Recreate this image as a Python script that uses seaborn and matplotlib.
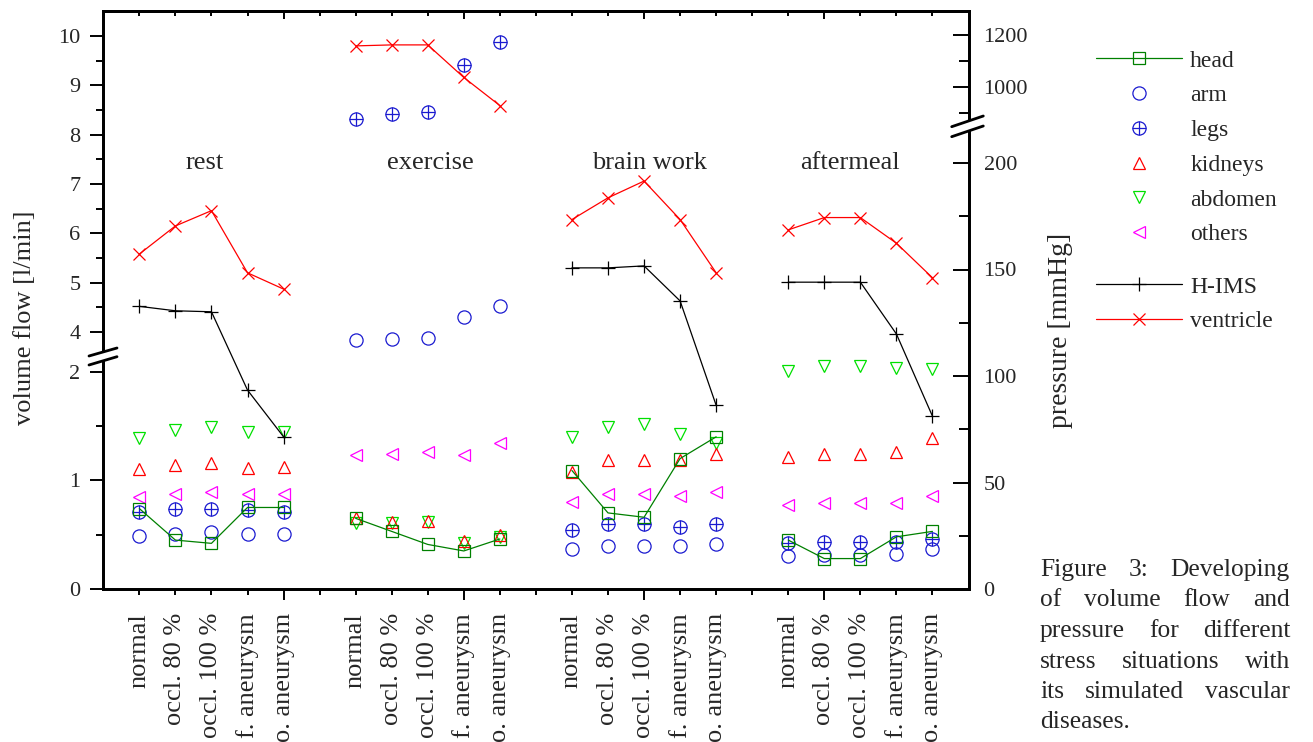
import numpy as np
import pandas as pd
import matplotlib
matplotlib.use("Agg")
import matplotlib.pyplot as plt
import matplotlib.transforms as mtransforms
from matplotlib.lines import Line2D
from matplotlib.patches import Polygon
from matplotlib.ticker import FixedLocator, FixedFormatter, NullFormatter
import seaborn as sns

# ---------------- data ----------------
situations = ["rest", "exercise", "brain work", "aftermeal"]
conditions = ["normal", "occl. 80 %", "occl. 100 %", "f. aneurysm", "o. aneurysm"]

nan = np.nan
head = [0.74, 0.45, 0.42, 0.75, 0.75,
        0.65, 0.53, 0.41, 0.35, 0.46,
        1.09, 0.70, 0.66, 1.20, 1.40,
        0.45, 0.28, 0.28, 0.48, 0.53]
arm = [0.49, 0.51, 0.52, 0.51, 0.51,
       3.83, 3.86, 3.88, 4.31, 4.53,
       0.365, 0.40, 0.40, 0.40, 0.41,
       0.30, 0.31, 0.31, 0.32, 0.365]
legs = [0.71, 0.74, 0.74, 0.73, 0.71,
        8.32, 8.42, 8.46, 9.41, 9.88,
        0.54, 0.60, 0.60, 0.57, 0.60,
        0.42, 0.435, 0.435, 0.435, 0.457]
kidneys = [1.10, 1.14, 1.16, 1.11, 1.125,
           0.65, 0.62, 0.63, 0.44, 0.50,
           1.08, 1.19, 1.19, 1.19, 1.24,
           1.21, 1.24, 1.24, 1.26, 1.39]
abdomen = [1.39, 1.46, 1.49, 1.44, 1.44,
           0.61, 0.61, 0.62, 0.42, 0.48,
           1.40, 1.49, 1.52, 1.43, 1.34,
           2.01, 2.05, 2.05, 2.03, 2.02]
others = [0.85, 0.87, 0.89, 0.87, 0.87,
          1.23, 1.24, 1.26, 1.23, 1.34,
          0.80, 0.87, 0.87, 0.86, 0.89,
          0.77, 0.79, 0.79, 0.79, 0.86]
h_ims = [4.52, 4.43, 4.41, 1.83, 1.40,
         nan, nan, nan, nan, nan,
         5.30, 5.30, 5.34, 4.63, 1.69,
         5.01, 5.01, 5.01, 3.96, 1.59]
ventricle = [5.58, 6.15, 6.46, 5.20, 4.87,
             9.80, 9.82, 9.82, 9.16, 8.59,
             6.28, 6.72, 7.06, 6.28, 5.20,
             6.07, 6.32, 6.32, 5.80, 5.10]

left_major = [0, 1, 2, 4, 5, 6, 7, 8, 9, 10]
left_minor = [0.5, 1.5, 4.5, 5.5, 6.5, 7.5, 8.5, 9.5]
right_major = [0, 50, 100, 150, 200, 1000, 1200]
right_minor = [25, 75, 125, 175, 900, 1100]

caption_lines = ["Figure 3: Developing", "of volume flow and",
                 "pressure for different", "stress situations with",
                 "its simulated vascular", "diseases."]

# ---------------- style ----------------
sns.set_style("ticks")
plt.rcParams["font.family"] = ["Liberation Serif", "DejaVu Serif"]
plt.rcParams["axes.linewidth"] = 2.0

W, H = 1313, 742
fig = plt.figure(figsize=(W / 100, H / 100), dpi=100)
AX_L, AX_R, AX_T, AX_B = 103.3, 968.5, 11.0, 589.0
ax = fig.add_axes([AX_L / W, 1 - AX_B / H, (AX_R - AX_L) / W, (AX_B - AX_T) / H])

# broken (piecewise linear) scales
L_xp = np.array([-1.0, 0.0, 2.15, 3.6, 12.0])
L_fp = np.array([-108.7, 0.0, 233.7, 257 - 0.4 * 49.33, 257 + 8 * 49.33])
R_xp = np.array([-100.0, 0.0, 215.0, 850.0, 2000.0])
R_fp = np.array([-213.0, 0.0, 215 * 2.13, 502 - 150 * 0.26, 502 + 1000 * 0.26])


def fwdL(v):
    return np.interp(v, L_xp, L_fp)


def invL(p):
    return np.interp(p, L_fp, L_xp)


def fwdR(v):
    return np.interp(v, R_xp, R_fp)


def invR(p):
    return np.interp(p, R_fp, R_xp)


# long-form data
x_pos = [g * 6 + c + 1 for g in range(len(situations)) for c in range(len(conditions))]
series = {"head": head, "arm": arm, "legs": legs, "kidneys": kidneys,
          "abdomen": abdomen, "others": others, "H-IMS": h_ims, "ventricle": ventricle}
rows = []
for name, vals in series.items():
    for i, v in enumerate(vals):
        rows.append(dict(series=name, x=x_pos[i], group=situations[i // 5], value=v))
df = pd.DataFrame(rows).dropna()

BLUE = "#1a1ad0"
styles = {
    "others": dict(color="#ff00ff", marker="<", ms=8.5, ls="", lw=0),
    "abdomen": dict(color="#00e000", marker="v", ms=9, ls="", lw=0),
    "kidneys": dict(color="#ff0000", marker="^", ms=9, ls="", lw=0),
    "arm": dict(color=BLUE, marker="o", ms=9.5, ls="", lw=0),
    "legs": dict(color=BLUE, marker="o", ms=9.5, ls="", lw=0),
    "head": dict(color="#008000", marker="s", ms=9, ls="-", lw=0.9),
    "H-IMS": dict(color="black", marker="+", ms=10, ls="-", lw=0.9),
    "ventricle": dict(color="#ff0000", marker="x", ms=9, ls="-", lw=0.9),
}

for name, st in styles.items():
    sub = df[df.series == name]
    sns.lineplot(data=sub, x="x", y="value", units="group", estimator=None, ax=ax,
                 color=st["color"], marker=st["marker"], markersize=st["ms"],
                 markerfacecolor="none", markeredgecolor=st["color"],
                 markeredgewidth=0.9, linestyle=st["ls"], linewidth=st["lw"],
                 legend=False)
    if name == "legs":
        sns.lineplot(data=sub, x="x", y="value", units="group", estimator=None, ax=ax,
                     color=BLUE, marker="+", markersize=9.5, markeredgecolor=BLUE,
                     markeredgewidth=0.9, linestyle="", linewidth=0, legend=False)

# ---------------- axes ----------------
ax.set_xlim(0, 24)
x_major = [5, 10, 15, 20]
x_minor = [p for p in range(1, 24) if p not in x_major]


def cond_label(p):
    return "" if p % 6 == 0 else conditions[(p - 1) % 6]


ax.xaxis.set_major_locator(FixedLocator(x_major))
ax.xaxis.set_major_formatter(FixedFormatter([cond_label(p) for p in x_major]))
ax.xaxis.set_minor_locator(FixedLocator(x_minor))
ax.xaxis.set_minor_formatter(FixedFormatter([cond_label(p) for p in x_minor]))
ax.tick_params(axis="x", which="both", direction="out", bottom=True, top=False,
               labelbottom=True, labelrotation=90, labelsize=19, width=1.4, color="black")
ax.tick_params(axis="x", which="major", length=7.9, pad=9.4)
ax.tick_params(axis="x", which="minor", length=4.3, pad=13.0)
ax.set_xlabel("")

ax.set_yscale("function", functions=(fwdL, invL))
ax.set_ylim(0, invL(AX_B - AX_T))
ax.yaxis.set_major_locator(FixedLocator(left_major))
ax.yaxis.set_major_formatter(FixedFormatter([str(v) for v in left_major]))
ax.yaxis.set_minor_locator(FixedLocator(left_minor))
ax.yaxis.set_minor_formatter(NullFormatter())
ax.tick_params(axis="y", which="both", direction="out", left=True, right=False,
               labelsize=16, width=1.4, color="black")
ax.tick_params(axis="y", which="major", length=9.4, pad=7)
ax.tick_params(axis="y", which="minor", length=5)
ax.set_ylabel("volume flow [l/min]", fontsize=19, va="center")
ax.yaxis.set_label_coords((25 - AX_L) / (AX_R - AX_L), (AX_B - 318) / (AX_B - AX_T))
for s in ax.spines.values():
    s.set_linewidth(2.0)
    s.set_color("black")

top = ax.secondary_xaxis("top")
top.xaxis.set_major_locator(FixedLocator(x_major))
top.xaxis.set_minor_locator(FixedLocator(x_minor))
top.xaxis.set_major_formatter(NullFormatter())
top.xaxis.set_minor_formatter(NullFormatter())
top.tick_params(axis="x", which="both", direction="in", width=1.4, color="black")
top.tick_params(axis="x", which="major", length=5.8)
top.tick_params(axis="x", which="minor", length=3.6)
top.spines["top"].set_linewidth(2.0)

tw = ax.twinx()
tw.set_yscale("function", functions=(fwdR, invR))
tw.set_ylim(0, invR(AX_B - AX_T))
tw.yaxis.set_major_locator(FixedLocator(right_major))
tw.yaxis.set_major_formatter(FixedFormatter([str(v) for v in right_major]))
tw.yaxis.set_minor_locator(FixedLocator(right_minor))
tw.yaxis.set_minor_formatter(NullFormatter())
tw.tick_params(axis="y", which="both", direction="in", right=True, left=False,
               labelsize=16, width=1.4, color="black", pad=10.8)
tw.tick_params(axis="y", which="major", length=11.5)
tw.tick_params(axis="y", which="minor", length=7.2)
tw.set_ylabel("pressure [mmHg]", fontsize=20, va="center")
tw.yaxis.set_label_coords((1060 - AX_L) / (AX_R - AX_L), (AX_B - 330) / (AX_B - AX_T))
for s in tw.spines.values():
    s.set_linewidth(2.0)
    s.set_color("black")

# situation labels
trans = mtransforms.blended_transform_factory(ax.transData, ax.transAxes)
for name, xc in zip(situations, [2.81, 9.07, 15.15, 20.7]):
    ax.text(xc, (AX_B - 163) / (AX_B - AX_T), name, transform=trans,
            ha="center", va="center", fontsize=19)


# ---------------- axis breaks ----------------
def fpx(x, y):
    return (x / W, 1 - y / H)


for (a, b, c, d) in [((89, 356), (117, 348), (117, 356.7), (89, 365)),
                     ((951.7, 126.7), (983.3, 116), (983.3, 126), (951.7, 136.7))]:
    fig.add_artist(Polygon([fpx(*a), fpx(*b), fpx(*c), fpx(*d)], closed=True,
                           transform=fig.transFigure, facecolor="white",
                           edgecolor="none", zorder=5))
    fig.add_artist(Line2D([fpx(*a)[0], fpx(*b)[0]], [fpx(*a)[1], fpx(*b)[1]],
                          transform=fig.transFigure, color="black", lw=2.0, zorder=6))
    fig.add_artist(Line2D([fpx(*d)[0], fpx(*c)[0]], [fpx(*d)[1], fpx(*c)[1]],
                          transform=fig.transFigure, color="black", lw=2.0, zorder=6))


# ---------------- legend ----------------
def proxy(name, **kw):
    st = styles[name]
    return Line2D([], [], color=st["color"], marker=st["marker"], markersize=st["ms"],
                  markerfacecolor="none", markeredgecolor=st["color"], markeredgewidth=0.9,
                  linestyle=st["ls"] if st["ls"] else "None", linewidth=st["lw"], **kw)


legs_handle = (proxy("legs"), Line2D([], [], color=BLUE, marker="+", markersize=9.5,
                                     markeredgewidth=0.9, linestyle="None"))
h1 = [proxy("head"), proxy("arm"), legs_handle, proxy("kidneys"),
      proxy("abdomen"), proxy("others")]
l1 = ["head", "arm", "legs", "kidneys", "abdomen", "others"]
common = dict(loc="upper left", frameon=False, fontsize=17, handlelength=3.64,
              handletextpad=0.35, labelspacing=0.56, borderpad=0, borderaxespad=0)
fig.legend(handles=h1, labels=l1, bbox_to_anchor=(1096 / W, 1 - 50 / H), **common)
fig.legend(handles=[proxy("H-IMS"), proxy("ventricle")], labels=["H-IMS", "ventricle"],
           bbox_to_anchor=(1096 / W, 1 - 276 / H), **common)

# ---------------- caption (justified) ----------------
renderer = fig.canvas.get_renderer()
X0, X1 = 1040, 1290
CAP_FS = 18.4
for i, line in enumerate(caption_lines):
    yb = 1 - (576 + 30.5 * i) / H
    words = line.split()
    if i == len(caption_lines) - 1 or len(words) == 1:
        fig.text(X0 / W, yb, line, va="baseline", ha="left", fontsize=CAP_FS)
        continue
    texts = [fig.text(0, yb, w, va="baseline", ha="left", fontsize=CAP_FS) for w in words]
    widths = [t.get_window_extent(renderer).width for t in texts]
    gap = (X1 - X0 - sum(widths)) / (len(words) - 1)
    xx = X0
    for t, wd in zip(texts, widths):
        t.set_x(xx / W)
        xx += wd + gap

fig.savefig("out.png", dpi=100)
